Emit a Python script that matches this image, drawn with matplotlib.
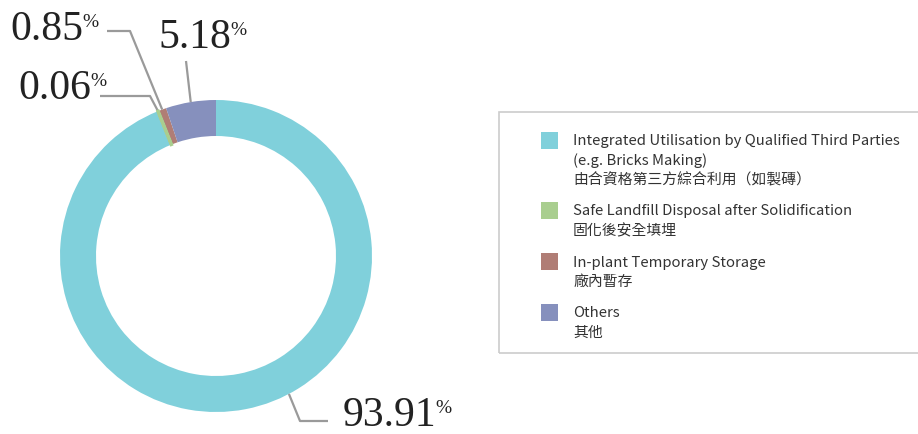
import numpy as np
import matplotlib.pyplot as plt
from matplotlib.patches import Rectangle

# waste disposal shares (%)
labels_en = [
    "Integrated Utilisation by Qualified Third Parties\n(e.g. Bricks Making)",
    "Safe Landfill Disposal after Solidification",
    "In-plant Temporary Storage",
    "Others",
]
labels_zh = [
    "由合資格第三方綜合利用（如製磚）",
    "固化後安全填埋",
    "廠內暫存",
    "其他",
]
shares = [93.91, 0.06, 0.85, 5.18]
colors = ["#80D0DB", "#A9CE8F", "#B07D75", "#8690BD"]

W, H = 918, 435
fig = plt.figure(figsize=(W / 100, H / 100), dpi=100)
ax = fig.add_axes([0, 0, 1, 1])

cx, cy = 216, H - 257
r_out, ring = 156, 36

wedges, _ = ax.pie(shares, colors=colors, startangle=90, counterclock=False,
                   center=(cx, cy), radius=r_out,
                   wedgeprops=dict(width=ring, linewidth=0))
# the tiny landfill slice would vanish otherwise, give it an outline
wedges[1].set_edgecolor(colors[1])
wedges[1].set_linewidth(2.2)
wedges[1].set_zorder(3)
ax.set_xlim(0, W)
ax.set_ylim(0, H)
ax.axis("off")

# leader lines: label side in pixel coords (top-down), wedge side from wedge angle
def edge_point(w, frac=0.5):
    ang = np.deg2rad(w.theta1 + (w.theta2 - w.theta1) * frac)
    return cx + r_out * np.cos(ang), cy + r_out * np.sin(ang)

serif = "Liberation Serif"
line_kw = dict(color="#9A9A9A", lw=1.6, solid_capstyle="butt")

# label layout: (number x, baseline y, leader waypoints, fraction along wedge)
layout = {
    2: dict(xy=(10, 40), path=[(107, 32), (130, 32)], frac=0.5),
    1: dict(xy=(18, 99), path=[(100, 97), (150, 97)], frac=0.5),
    3: dict(xy=(158, 48), path=[(186, 62)], frac=0.5),
    0: dict(xy=(343, 426), path=[(328, 422), (300, 422)], frac=0.55),
}

for i, cfg in layout.items():
    pts = [(x, H - y) for x, y in cfg["path"]]
    pts.append(edge_point(wedges[i], cfg["frac"]))
    xs, ys = zip(*pts)
    ax.plot(xs, ys, **line_kw)
    x0, y0 = cfg["xy"]
    t = ax.text(x0, H - y0, f"{shares[i]:.2f}", family=serif, fontsize=30,
                color="#222222", ha="left", va="baseline")
    fig.canvas.draw()
    bb = t.get_window_extent()
    ax.text(bb.x1 - 1, H - y0 + 13, "%", family=serif, fontsize=14,
            color="#222222", ha="left", va="baseline")

# legend box
ax.add_patch(Rectangle((498.5, H - 354), 430, 241, fill=False,
                       edgecolor="#CCCCCC", lw=1.2))

sans = ["Noto Sans CJK TC", "DejaVu Sans"]
rows_y = [133, 203, 254, 305]
for i, y in enumerate(rows_y):
    ax.add_patch(Rectangle((541, H - y - 17), 17, 17, color=colors[i], lw=0))
    lines = labels_en[i].split("\n") + [labels_zh[i]]
    for k, s in enumerate(lines):
        ax.text(573, H - (y + 8.5 + k * 19.5), s, family=sans, fontsize=10.7,
                color="#333333", ha="left", va="center")

fig.savefig("out.png", dpi=100)
